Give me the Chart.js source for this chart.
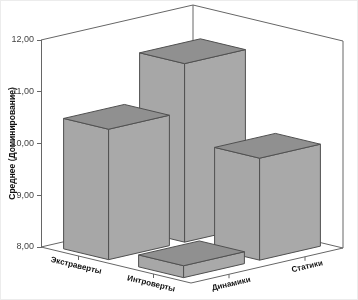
<!DOCTYPE html>
<html>
<head>
<meta charset="utf-8">
<script src="https://cdn.jsdelivr.net/npm/chart.js@4.4.0/dist/chart.umd.min.js"></script>
<style>
  html, body { margin: 0; padding: 0; background: #fff; }
  #box { width: 358px; height: 300px; }
</style>
</head>
<body>
<div id="box"><canvas id="grafik" width="358" height="300"></canvas></div>
<script>
// данные
const gruppyA = ['Экстраверты', 'Интроверты'];
const gruppyB = ['Динамики', 'Статики'];
const dinamiki = [10.52, 8.23];
const statiki = [11.45, 9.97];
const yTicks = [8, 9, 10, 11, 12];

// проекция пола (пиксели)
const osA = { x: 150, y: 36 };   // Экстраверты -> Интроверты
const osB = { x: 152, y: -35 };  // Динамики -> Статики
const polA = 0.15, polB = 0.2;   // половина размера столбика

const shrift = 'Liberation Sans, Arial, sans-serif';

function proekt(chart, a, b, v) {
  return {
    x: chart.chartArea.left + a * osA.x + b * osB.x,
    y: chart.scales.y.getPixelForValue(v) + a * osA.y + b * osB.y
  };
}

function grani(ctx, pts, cvet) {
  ctx.beginPath();
  ctx.moveTo(pts[0].x, pts[0].y);
  for (let i = 1; i < pts.length; i++) ctx.lineTo(pts[i].x, pts[i].y);
  ctx.closePath();
  ctx.fillStyle = cvet;
  ctx.fill();
  ctx.stroke();
}

function liniya(ctx, p1, p2) {
  ctx.beginPath();
  ctx.moveTo(p1.x, p1.y);
  ctx.lineTo(p2.x, p2.y);
  ctx.stroke();
}

const ob3d = {
  id: 'ob3d',
  afterDatasetsDraw(chart) {
    const ctx = chart.ctx;
    const ys = chart.scales.y, xs = chart.scales.x;
    const area = chart.chartArea;
    const lo = ys.min, hi = ys.max;
    const fracA = i => (xs.getPixelForValue(i) - area.left) / area.width;
    const fracB = j => (j + 0.5) / gruppyB.length;

    ctx.save();
    ctx.lineWidth = 1;
    ctx.strokeStyle = '#666';

    // стены и пол
    const L = proekt(chart, 0, 0, lo), B = proekt(chart, 0, 1, lo);
    const R = proekt(chart, 1, 1, lo), F = proekt(chart, 1, 0, lo);
    const LT = proekt(chart, 0, 0, hi), BT = proekt(chart, 0, 1, hi), RT = proekt(chart, 1, 1, hi);
    liniya(ctx, LT, BT); liniya(ctx, BT, RT);
    liniya(ctx, B, BT); liniya(ctx, R, RT);
    liniya(ctx, L, B); liniya(ctx, B, R);
    liniya(ctx, L, F); liniya(ctx, F, R);

    // столбики, от дальних к ближним
    const stolby = [];
    chart.data.datasets.forEach((ds, j) => {
      ds.data.forEach((v, i) => {
        const a = fracA(i), b = fracB(j);
        stolby.push({ a, b, v, glub: a * osA.y + b * osB.y });
      });
    });
    stolby.sort((p, q) => p.glub - q.glub);

    ctx.strokeStyle = '#505050';
    stolby.forEach(s => {
      const p = (da, db, val) => proekt(chart, s.a + da, s.b + db, val);
      const lB = p(-polA, -polB, lo), fB = p(polA, -polB, lo), rB = p(polA, polB, lo);
      const lT = p(-polA, -polB, s.v), fT = p(polA, -polB, s.v);
      const rT = p(polA, polB, s.v), bT = p(-polA, polB, s.v);
      grani(ctx, [lB, fB, fT, lT], '#a7a7a7');
      grani(ctx, [fB, rB, rT, fT], '#a9a9a9');
      grani(ctx, [lT, fT, rT, bT], '#909090');
    });

    // подписи на полу
    ctx.strokeStyle = '#666';
    ctx.fillStyle = '#111';
    ctx.font = 'bold 8px ' + shrift;
    ctx.textAlign = 'center';
    ctx.textBaseline = 'middle';
    const podpis = (pt, ugol, nx, ny, text) => {
      liniya(ctx, pt, { x: pt.x, y: pt.y + 4 });
      ctx.save();
      ctx.translate(pt.x + nx * 10, pt.y + ny * 10);
      ctx.rotate(ugol);
      ctx.fillText(text, 0, 0);
      ctx.restore();
    };
    const ugA = Math.atan2(osA.y, osA.x), ugB = Math.atan2(osB.y, osB.x);
    gruppyA.forEach((t, i) => {
      podpis(proekt(chart, fracA(i), 0, lo), ugA, -Math.sin(ugA), Math.cos(ugA), t);
    });
    gruppyB.forEach((t, j) => {
      podpis(proekt(chart, 1, fracB(j), lo), ugB, -Math.sin(ugB), Math.cos(ugB), t);
    });

    // рамка
    ctx.strokeStyle = '#ececec';
    ctx.strokeRect(0.5, 0.5, chart.width - 1, chart.height - 1);
    ctx.restore();
  }
};

new Chart(document.getElementById('grafik'), {
  type: 'bar',
  data: {
    labels: gruppyA,
    datasets: [
      { label: gruppyB[0], data: dinamiki, backgroundColor: 'rgba(0,0,0,0)', borderWidth: 0 },
      { label: gruppyB[1], data: statiki, backgroundColor: 'rgba(0,0,0,0)', borderWidth: 0 }
    ]
  },
  options: {
    responsive: false,
    animation: false,
    events: [],
    layout: { padding: { left: 0, top: 40, right: 15, bottom: 53 } },
    plugins: { legend: { display: false }, tooltip: { enabled: false } },
    scales: {
      x: { display: false },
      y: {
        min: 8,
        max: 12,
        afterBuildTicks: s => { s.ticks = yTicks.map(v => ({ value: v })); },
        afterFit: s => { s.width = 41; },
        ticks: {
          callback: v => v.toFixed(2).replace('.', ','),
          font: { size: 9, family: shrift },
          color: '#444',
          padding: 3
        },
        grid: { drawOnChartArea: false, tickLength: 4, color: '#666' },
        border: { display: true, color: '#666' },
        title: {
          display: true,
          text: 'Среднее (Доминирование)',
          font: { size: 8.5, weight: 'bold', family: shrift },
          color: '#111',
          padding: { top: 8, bottom: 0 }
        }
      }
    }
  },
  plugins: [ob3d]
});
</script>
</body>
</html>
